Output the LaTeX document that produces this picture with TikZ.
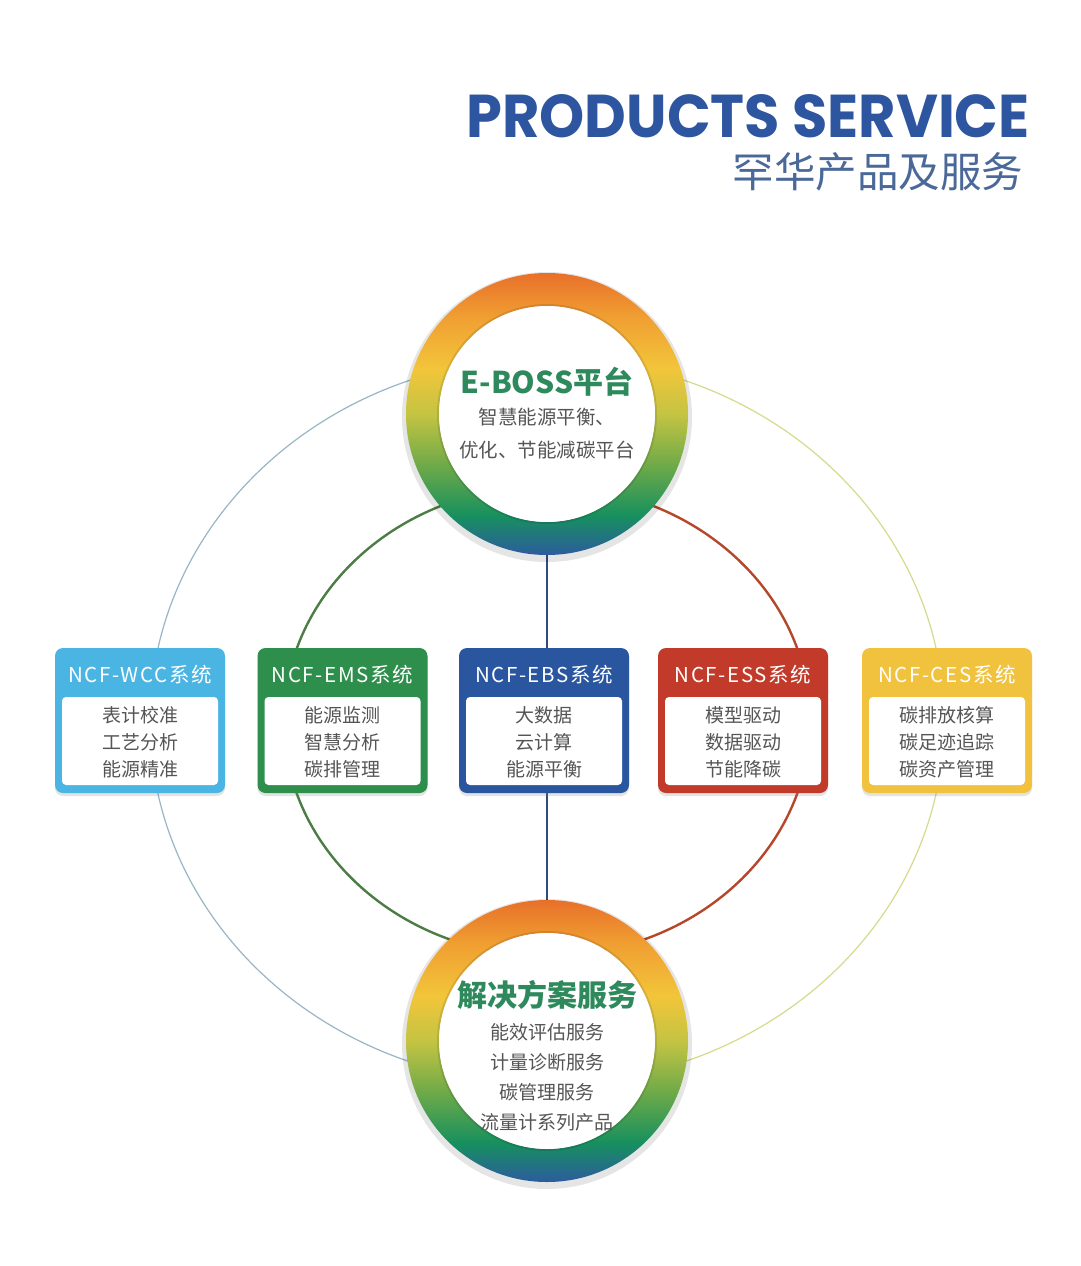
\documentclass[tikz,border=0pt]{standalone}
\usepackage{fontspec}
\usepackage{graphicx}
\newfontfamily\cjk{Noto Sans CJK SC}
\newfontfamily\pop{Poppins}
\usetikzlibrary{shadows}
\definecolor{ttl}{HTML}{2E56A0}
\definecolor{subttl}{HTML}{4A6898}
\definecolor{grn}{HTML}{2E8A5C}
\definecolor{txt}{HTML}{555555}
\definecolor{rblue}{HTML}{2C5C9E}
\definecolor{rgreen}{HTML}{17905E}
\definecolor{rlgreen}{HTML}{6FAA48}
\definecolor{rolive}{HTML}{C4C443}
\definecolor{ryellow}{HTML}{F2C53A}
\definecolor{rorange2}{HTML}{F0A032}
\definecolor{rorange}{HTML}{E8702A}
\definecolor{cwcc}{HTML}{4AB4E2}
\definecolor{cems}{HTML}{2E8F4C}
\definecolor{cebs}{HTML}{2A56A0}
\definecolor{cess}{HTML}{C23A2A}
\definecolor{cces}{HTML}{F0C23E}
\definecolor{outL}{HTML}{98B6C6}
\definecolor{outR}{HTML}{D6DA8C}
\definecolor{inL}{HTML}{4B7D45}
\definecolor{inR}{HTML}{B5482A}
\definecolor{vcol}{HTML}{2E4C7C}
\pgfdeclareverticalshading{ringshade}{100bp}{color(0bp)=(rblue); color(25bp)=(rblue); color(32bp)=(rgreen); color(41bp)=(rlgreen); color(50bp)=(rolive); color(58bp)=(ryellow); color(67bp)=(rorange2); color(75bp)=(rorange); color(100bp)=(rorange)}
\tikzset{
  sysframe/.style={rectangle, rounded corners=8pt, minimum width=170pt, minimum height=145pt, inner sep=0pt,
    drop shadow={opacity=0.22, shadow xshift=0pt, shadow yshift=-3pt}},
  hdr/.style={text=white, font=\cjk\addfontfeature{LetterSpace=8}\fontsize{20.5}{22}\selectfont, inner sep=0pt},
  body/.style={text=txt, align=center, font=\cjk\fontsize{19}{27}\selectfont, inner sep=0pt},
  ringnode/.style={circle, minimum size=282pt, inner sep=0pt},
  vline/.style={draw=vcol, line width=1.3pt}
}
\newcommand\sysbox[5]{%
  \node[sysframe, fill=#3] (#1) at (#2,720.5) {};
  \fill[white, rounded corners=4pt] (#2-78,697) rectangle (#2+78,785);
  \node[hdr] (#1h) at (#2,675) {#4};
  \node[body] (#1b) at (#2,742) {#5};
}
\newcommand\gring[2]{%
  \fill[black, opacity=0.10] (#1,#2+3) circle[radius=145];
  \shade[shading=ringshade, even odd rule] (#1,#2) circle[radius=141] circle[radius=108];
  \fill[white] (#1,#2) circle[radius=108];
  \draw[black, opacity=0.10, line width=2pt] (#1,#2) circle[radius=109];
}
\begin{document}
\begin{tikzpicture}[x=1pt,y=-1pt]
\useasboundingbox (0,0) rectangle (1080,1266);
\fill[white] (0,0) rectangle (1080,1266);
% title
\node[anchor=base east, text=ttl, inner sep=0pt] (title) at (1030,137) {\resizebox{563pt}{43pt}{\pop\bfseries PRODUCTS SERVICE}};
\node[text=subttl, inner sep=0pt, font=\cjk\fontsize{41.5}{42}\selectfont] (subtitle) at (878,172) {罕华产品及服务};
% ellipses
\begin{scope}
  \clip (0,0) rectangle (547,1266);
  \draw[outL, line width=1.2pt] (547,721) ellipse[x radius=397, y radius=363];
  \draw[inL, line width=2.4pt] (547,721) ellipse[x radius=263, y radius=235];
\end{scope}
\begin{scope}
  \clip (547,0) rectangle (1080,1266);
  \draw[outR, line width=1.2pt] (547,721) ellipse[x radius=397, y radius=363];
  \draw[inR, line width=2.4pt] (547,721) ellipse[x radius=263, y radius=235];
\end{scope}
% ring nodes
\node[ringnode] (eboss) at (547,414) {};
\node[ringnode] (sol) at (547,1041) {};
\draw[vline] (eboss.south) -- (sol.north);
% boxes
\sysbox{wcc}{140}{cwcc}{NCF-WCC系统}{表计校准\\工艺分析\\能源精准}
\sysbox{ems}{342.5}{cems}{NCF-EMS系统}{能源监测\\智慧分析\\碳排管理}
\sysbox{ebs}{544}{cebs}{NCF-EBS系统}{大数据\\云计算\\能源平衡}
\sysbox{ess}{743}{cess}{NCF-ESS系统}{模型驱动\\数据驱动\\节能降碳}
\sysbox{ces}{947}{cces}{NCF-CES系统}{碳排放核算\\碳足迹追踪\\碳资产管理}
% rings
\gring{547}{414}
\gring{547}{1041}
\node[text=grn, font=\cjk\bfseries\fontsize{30}{32}\selectfont, inner sep=0pt] (ebosst) at (547,382) {E-BOSS平台};
\node[text=txt, align=center, font=\cjk\fontsize{19.5}{33}\selectfont, inner sep=0pt] (ebossb) at (547,433.5) {智慧能源平衡、\\优化、节能减碳平台};
\node[text=grn, font=\cjk\bfseries\fontsize{30}{32}\selectfont, inner sep=0pt] (solt) at (547,995) {解决方案服务};
\node[text=txt, align=center, font=\cjk\fontsize{19}{30}\selectfont, inner sep=0pt] (solb) at (547,1077) {能效评估服务\\计量诊断服务\\碳管理服务\\流量计系列产品};
\end{tikzpicture}
\end{document}
